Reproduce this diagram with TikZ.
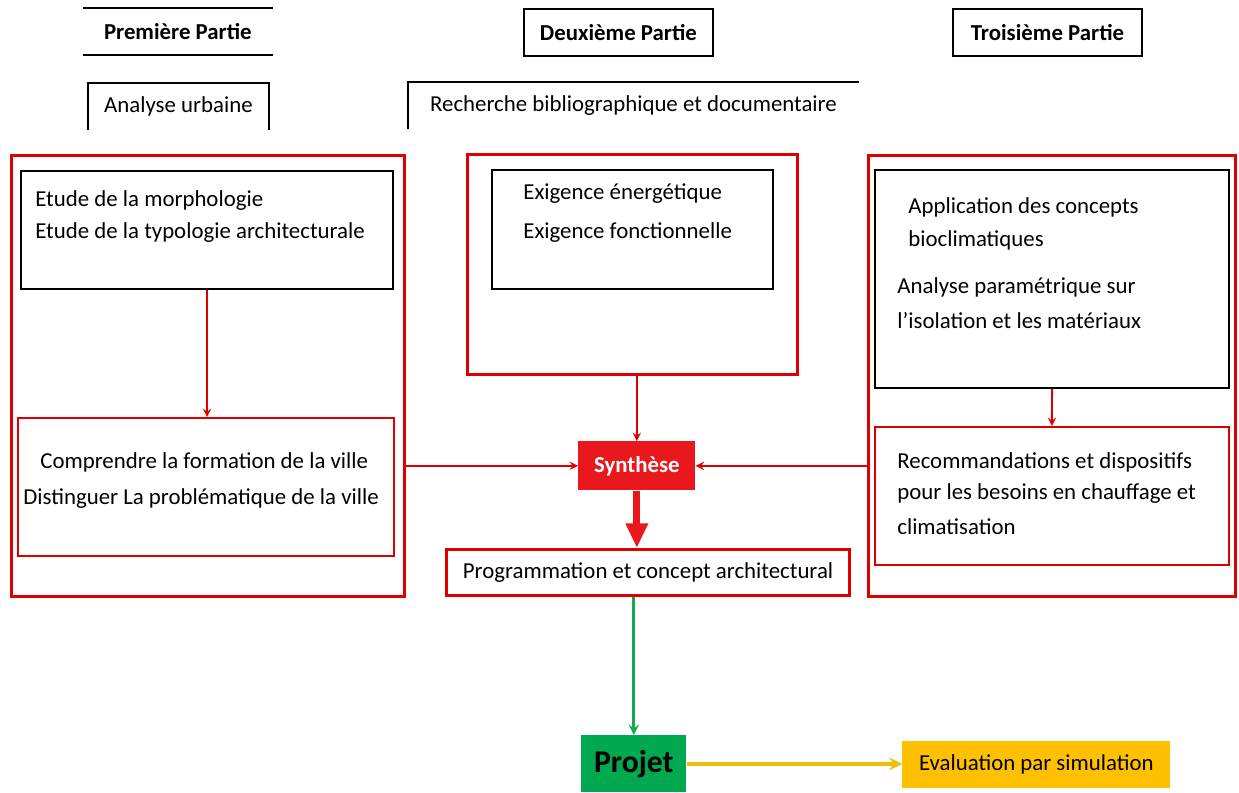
\documentclass[tikz,border=0pt]{standalone}
\usepackage{fontspec}
\setmainfont{Carlito}
\usepackage{xcolor}
\usepackage{tikz}
\usetikzlibrary{arrows.meta}

\definecolor{rouge}{RGB}{222,0,0}
\definecolor{rougeSynth}{RGB}{232,24,28}
\definecolor{vertProjet}{RGB}{0,168,80}
\definecolor{vertFleche}{RGB}{20,170,80}
\definecolor{orEval}{RGB}{255,192,0}
\definecolor{jauneFleche}{RGB}{240,190,10}

\begin{document}
\begin{tikzpicture}[x=0.02cm, y=-0.02cm, font=\fontsize{13}{16}\selectfont,
		taille/.style 2 args={minimum width=#1*\pix, minimum height=#2*\pix},
		boite/.style={inner sep=0pt, anchor=north west},
		partie/.style={boite, font=\fontsize{13}{16}\selectfont\bfseries},
		cadre/.style={boite, draw=rouge, line width=1.7pt},
		cadreFin/.style={boite, draw=rouge, line width=1pt},
		noir/.style={boite, draw=black, line width=1.2pt},
		ligne/.style={inner sep=0pt, anchor=base west}]
			\def\pix{0.02cm}
			\useasboundingbox (0,0) rectangle (1239,792);

			\begin{scope}
				\node[partie, taille={189}{46}] (premiere) at (83,8) {Première Partie};
				\draw[line width=1.1pt] (premiere.north west) -- (premiere.north east);
				\draw[line width=1.1pt] (premiere.south west) -- (premiere.south east);
				\node[partie, draw, line width=1.1pt, taille={189}{47}] (deuxieme) at (523,8) {Deuxième Partie};
				\node[partie, draw, line width=1.1pt, taille={189}{47}] (troisieme) at (952,8) {Troisième Partie};
			\end{scope}

			\begin{scope}[line width=1.1pt]
				\node[boite, taille={179}{45}] (analyse) at (88,83) {Analyse urbaine};
				\draw (analyse.south west) -- (analyse.north west) -- (analyse.north east) -- (analyse.south east);
				\node[boite, taille={449}{45}] (recherche) at (408,82) {Recherche bibliographique et documentaire};
				\draw (recherche.south west) -- (recherche.north west) -- (recherche.north east);
			\end{scope}

			\begin{scope}
				\node[cadre, taille={393}{441}] (gauche) at (10,154) {};
				\node[noir, taille={372}{118}] (etudes) at (20,170) {};
				\node[cadreFin, taille={376}{138}] (ville) at (17,417) {};
				\node[ligne] (morphologie) at (35,206) {Etude de la morphologie};
				\node[ligne] (typologie) at (35,238) {Etude de la typologie architecturale};
				\node[ligne] (comprendre) at (40,468) {Comprendre la formation de la ville};
				\node[ligne] (distinguer) at (23,504) {Distinguer La problématique de la ville};
			\end{scope}

			\begin{scope}
				\node[cadre, taille={330}{220}] (milieu) at (466,153) {};
				\node[noir, taille={281}{119}] (exigences) at (491,169) {};
				\node[ligne] (energie) at (523,199) {Exigence énergétique};
				\node[ligne] (fonction) at (523,238) {Exigence fonctionnelle};
			\end{scope}

			\begin{scope}
				\node[cadre, taille={367}{441}] (droite) at (867,154) {};
				\node[noir, taille={354}{218}] (concepts) at (874,169) {};
				\node[cadreFin, taille={354}{138}] (recommandations) at (874,426) {};
				\node[ligne] (application) at (908,213) {Application des concepts};
				\node[ligne] (bioclim) at (908,246) {bioclimatiques};
				\node[ligne] (parametrique) at (897,293) {Analyse paramétrique sur};
				\node[ligne] (isolation) at (897,328) {l'isolation et les matériaux};
				\node[ligne] (reco) at (897,468) {Recommandations et dispositifs};
				\node[ligne] (besoins) at (897,499) {pour les besoins en chauffage et};
				\node[ligne] (clim) at (897,534) {climatisation};
			\end{scope}

			\node[boite, fill=rougeSynth, text=white, font=\fontsize{13}{16}\selectfont\bfseries, taille={117}{49}] (synthese) at (578,441) {Synthèse};
			\node[cadre, taille={403}{46}] (programmation) at (445,548) {Programmation et concept architectural};
			\node[boite, fill=vertProjet, font=\fontsize{18}{20}\selectfont\bfseries, taille={105}{57}] (projet) at (581,735) {Projet};
			\node[boite, fill=orEval, taille={268}{47}] (evaluation) at (902,741) {Evaluation par simulation};

			\begin{scope}[rouge, line width=1.1pt, -stealth]
				\draw (etudes.south) -- (etudes.south |- ville.north);
				\draw (concepts.south) -- (recommandations.north);
				\draw (synthese.north |- milieu.south) -- (synthese.north);
				\draw (gauche.east |- synthese.west) -- (synthese.west);
				\draw (droite.west |- synthese.east) -- (synthese.east);
			\end{scope}

			\draw[rougeSynth, line width=4pt, -{Triangle[length=14pt, width=12pt]}] (synthese.south) -- (synthese.south |- programmation.north);
			\draw[vertFleche, line width=1.6pt, -stealth] (projet.north |- programmation.south) -- (projet.north);
			\draw[jauneFleche, line width=2.2pt, -stealth] (projet.east) -- (projet.east -| evaluation.west);
		\end{tikzpicture}
\end{document}
